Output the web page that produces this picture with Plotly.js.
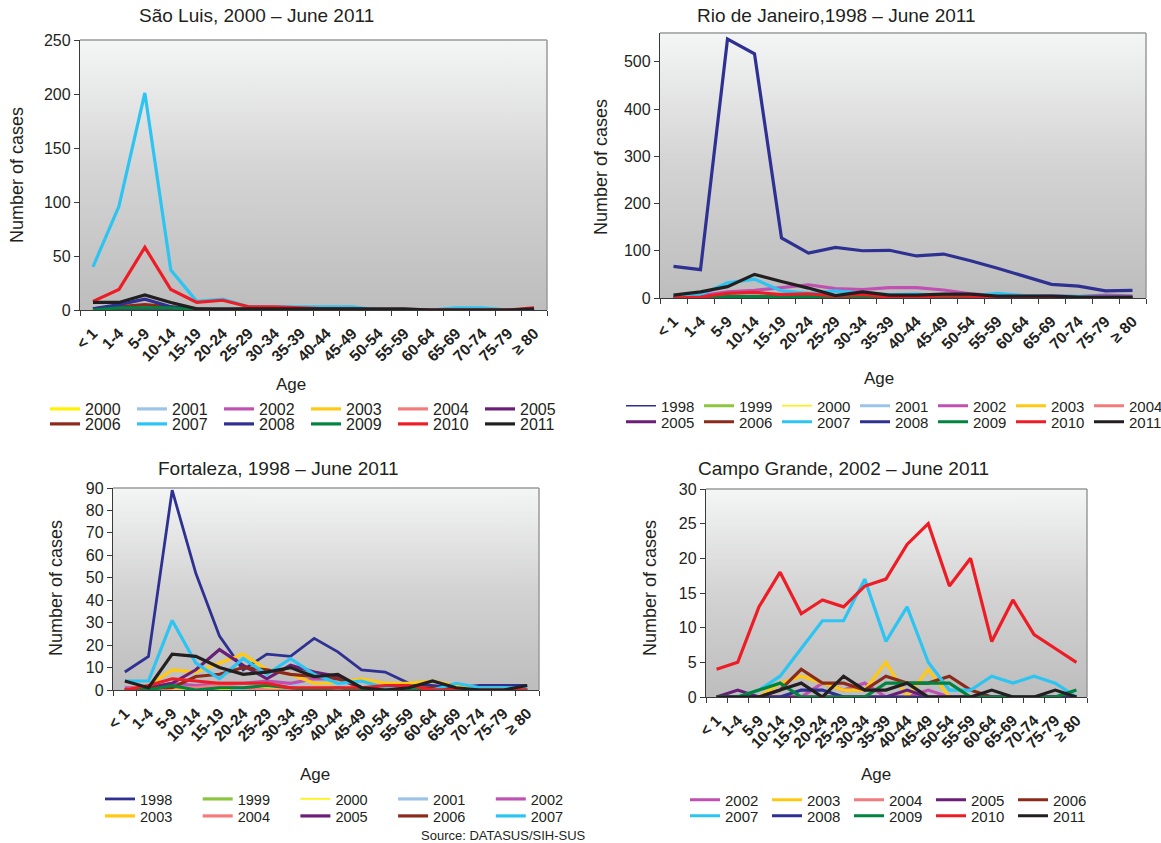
<!DOCTYPE html>
<html>
<head>
<meta charset="utf-8">
<script src="https://cdn.plot.ly/plotly-3.0.1.min.js"></script>
<style>html,body{margin:0;padding:0;background:#fff;}#chart{width:1161px;height:843px;}</style>
</head>
<body>
<div id="chart"></div>
<script>
// ---------- DATA ----------
const ageGroups = ['< 1','1-4','5-9','10-14','15-19','20-24','25-29','30-34','35-39','40-44','45-49','50-54','55-59','60-64','65-69','70-74','75-79','≥ 80'];

// São Luis, 2000 – June 2011
const saoLuisYears = [2000,2001,2002,2003,2004,2005,2006,2007,2008,2009,2010,2011];
const saoLuisValues = [
  [0,0,1,0,0,0,0,0,0,0,0,0,0,0,0,0,0,0],
  [0,0,2,1,0,0,0,0,0,0,0,0,0,0,0,0,0,0],
  [0,1,2,1,0,0,0,0,0,0,0,0,0,0,0,0,0,0],
  [0,1,1,0,0,0,0,0,0,0,0,0,0,0,0,0,0,0],
  [0,0,0,0,0,0,0,0,0,0,0,0,0,0,0,0,0,0],
  [0,0,1,0,0,0,0,0,0,0,0,0,0,0,0,0,0,0],
  [1,3,5,3,1,0,0,0,0,0,0,0,0,0,0,0,0,0],
  [40,96,201,37,8,10,3,3,3,3,3,0,0,0,2,2,0,0],
  [1,5,10,3,0,0,0,0,0,0,0,0,0,0,0,0,0,0],
  [0,2,2,2,0,0,1,0,0,0,0,0,0,0,0,0,0,0],
  [8,19,58,19,7,9,3,3,2,1,1,0,0,0,0,0,0,2],
  [7,7,14,7,1,1,1,1,1,1,1,1,1,0,0,0,0,1]
];

// Rio de Janeiro, 1998 – June 2011
const rioYears = [1998,1999,2000,2001,2002,2003,2004,2005,2006,2007,2008,2009,2010,2011];
const rioValues = [
  [0,0,1,1,1,1,1,1,1,1,0,0,0,0,0,0,0,0],
  [0,0,0,0,0,0,0,0,0,0,0,0,0,0,0,0,0,0],
  [0,0,1,1,0,0,0,0,0,0,0,0,0,0,0,0,0,0],
  [0,1,2,2,1,1,1,1,1,0,0,0,0,0,0,0,0,0],
  [2,5,13,16,22,28,20,18,22,22,17,9,5,4,5,3,6,4],
  [0,0,1,1,1,1,0,0,0,0,0,0,0,0,0,0,0,0],
  [0,0,1,1,1,1,0,0,0,0,0,0,0,0,0,0,0,0],
  [0,0,1,1,1,0,0,0,0,0,0,0,0,0,0,0,0,0],
  [0,1,3,3,2,2,1,1,1,1,1,1,0,0,0,0,0,0],
  [3,7,32,40,15,10,15,10,7,8,5,4,10,5,4,3,2,2],
  [67,60,548,517,127,95,107,100,101,89,93,79,63,46,29,25,15,16],
  [0,0,3,3,2,3,1,1,1,1,2,1,0,0,0,0,0,0],
  [0,2,10,12,7,9,4,7,2,2,5,4,1,1,1,1,0,0],
  [6,13,24,50,35,21,5,13,6,6,8,8,4,4,4,2,2,2]
];

// Fortaleza, 1998 – June 2011
const fortalezaYears = [1998,1999,2000,2001,2002,2003,2004,2005,2006,2007,2009,2010,2011];
const fortalezaValues = [
  [8,15,89,52,24,9,16,15,23,17,9,8,3,2,1,2,2,2],
  [0,0,1,0,0,0,0,0,0,0,0,0,0,0,0,0,0,0],
  [0,0,0,0,0,1,1,0,0,0,0,0,0,0,0,0,0,0],
  [0,0,2,1,2,0,3,2,5,2,0,0,0,0,0,0,0,0],
  [1,1,3,2,3,3,4,3,5,5,1,1,0,0,0,0,0,0],
  [0,2,9,8,12,16,9,7,3,3,5,3,3,4,2,1,1,0],
  [0,0,1,1,2,1,0,0,0,0,0,0,0,0,0,0,0,0],
  [0,1,3,9,18,11,5,11,8,6,1,0,0,0,0,0,0,0],
  [0,1,1,6,7,10,9,7,6,5,1,1,1,1,0,0,0,0],
  [4,4,31,12,5,14,7,14,7,3,4,1,0,0,3,1,1,1],
  [0,0,2,0,1,1,2,1,0,1,0,0,0,0,0,0,0,0],
  [0,2,5,4,3,3,3,1,1,1,1,2,2,0,0,0,0,0],
  [4,1,16,15,10,7,8,10,6,7,1,0,1,4,1,0,0,2]
];

// Campo Grande, 2002 – June 2011
const campoYears = [2002,2003,2004,2005,2006,2007,2008,2009,2010,2011];
const campoValues = [
  [0,0,0,0,0,2,1,2,0,0,1,0,0,0,0,0,0,0],
  [0,0,0,2,3,2,1,1,5,0,4,0,0,0,0,0,0,0],
  [0,0,0,0,0,0,0,0,0,0,0,0,0,0,0,0,0,0],
  [0,1,0,0,0,0,0,0,0,1,0,0,0,0,0,0,0,0],
  [0,0,0,1,4,2,2,1,3,2,2,3,1,0,0,0,0,0],
  [0,0,1,3,7,11,11,17,8,13,5,1,1,3,2,3,2,0],
  [0,0,0,0,1,1,0,0,0,0,0,0,0,0,0,0,0,0],
  [0,0,1,2,0,0,0,0,2,2,2,2,0,0,0,0,0,1],
  [4,5,13,18,12,14,13,16,17,22,25,16,20,8,14,9,7,5],
  [0,0,0,1,2,0,3,1,1,2,0,0,0,1,0,0,1,0]
];

const panelTitles = ['São Luis, 2000 – June 2011','Rio de Janeiro,1998 – June 2011','Fortaleza, 1998 – June 2011','Campo Grande, 2002 – June 2011'];
const yTitle = 'Number of cases';
const xTitle = 'Age';
const sourceText = 'Source: DATASUS/SIH-SUS';

// ---------- STYLE ----------
const yearColor = {
  1998:'#2e3192',1999:'#8cc63e',2000:'#fff200',2001:'#9cc3e8',2002:'#c050b2',2003:'#ffc812',
  2004:'#f47b7b',2005:'#6a1e78',2006:'#8c2a1a',2007:'#2cc4f2',2008:'#2e3192',2009:'#00843f',
  2010:'#ee1c25',2011:'#231f20'
};
const FONT = 'Liberation Sans, Arial, sans-serif';
const W = 1161, H = 843;
const fx = v => v / W;
const fy = v => 1 - v / H;

// panel geometry (pixels)
const panels = [
  {xa:'x',  ya:'y',  box:[80,547,40,310],   range:[0,250], dtick:50,  years:saoLuisYears,  vals:saoLuisValues,
   title:[256,15], age:[291,384], ylab:[17,175]},
  {xa:'x2', ya:'y2', box:[660,1146,33,298],  range:[0,561], dtick:100, years:rioYears,      vals:rioValues,
   title:[836,15], age:[879,378], ylab:[601,167]},
  {xa:'x3', ya:'y3', box:[113,539,488,690],  range:[0,90],  dtick:10,  years:fortalezaYears, vals:fortalezaValues,
   title:[278,468], age:[315,774], ylab:[56,588]},
  {xa:'x4', ya:'y4', box:[706,1087,489,697], range:[0,30],  dtick:5,   years:campoYears,    vals:campoValues,
   title:[843,468], age:[876,774], ylab:[650,588]}
];

// legend rows: [panelIndex, years, legend id, x start px, y px, spacing px, font size]
const legendRows = [
  [0, [2000,2001,2002,2003,2004,2005], 'legend',  50, 409, 86, 16],
  [0, [2006,2007,2008,2009,2010,2011], 'legend2', 50, 424, 86, 16],
  [1, [1998,1999,2000,2001,2002,2003,2004], 'legend3', 626, 406, 77, 15],
  [1, [2005,2006,2007,2008,2009,2010,2011], 'legend4', 626, 422, 77, 15],
  [2, [1998,1999,2000,2001,2002], 'legend5', 105, 799, 96.7, 14.5],
  [2, [2003,2004,2005,2006,2007], 'legend6', 105, 816, 96.7, 14.5],
  [3, [2002,2003,2004,2005,2006], 'legend7', 690, 800, 81, 15],
  [3, [2007,2008,2009,2010,2011], 'legend8', 690, 816, 81, 15]
];

function legendFor(pi, year) {
  for (const r of legendRows) if (r[0] === pi && r[1].indexOf(year) >= 0) return r[2];
  return null;
}
function widthFor(pi, year) {
  if ((pi === 1 || pi === 2) && (year === 1998 || year === 2000)) return pi === 2 && year === 1998 ? 2.8 : 1.6;
  return 3.2;
}

const traces = [];
panels.forEach((p, pi) => {
  p.years.forEach((yr, i) => {
    const lg = legendFor(pi, yr);
    traces.push({
      type:'scatter', mode:'lines', x: ageGroups, y: p.vals[i], name: String(yr),
      xaxis: p.xa, yaxis: p.ya,
      line:{color: yearColor[yr], width: widthFor(pi, yr)},
      legend: lg || 'legend', showlegend: !!lg, hoverinfo:'x+y+name'
    });
  });
});

const gradSvg = '<svg xmlns="http://www.w3.org/2000/svg" width="100" height="100" preserveAspectRatio="none">' +
  '<defs><linearGradient id="g" x1="0" y1="0" x2="0" y2="1">' +
  '<stop offset="0" stop-color="#f4f5f5"/><stop offset="0.5" stop-color="#d3d3d3"/><stop offset="1" stop-color="#bdbdbd"/></linearGradient></defs>' +
  '<rect width="100" height="100" fill="url(#g)"/></svg>';
const gradSrc = 'data:image/svg+xml;base64,' + btoa(gradSvg);

const layout = {
  width: W, height: H,
  margin:{l:0,r:0,t:0,b:0, autoexpand:false},
  paper_bgcolor:'#ffffff', plot_bgcolor:'rgba(0,0,0,0)',
  font:{family: FONT, color:'#231f20'},
  annotations: [], images: [], shapes: []
};

panels.forEach((p, pi) => {
  const sfx = pi === 0 ? '' : String(pi + 1);
  layout['xaxis' + sfx] = {
    domain:[fx(p.box[0]), fx(p.box[1])], anchor: p.ya,
    type:'category', tickmode:'linear', tick0:0, dtick:1, tickson:'boundaries',
    tickangle:-45, tickfont:{family:FONT, size:15.5, color:'#231f20', weight:'bold'},
    ticklabelstandoff: 7,
    showline:true, linecolor:'#3a3a3a', linewidth:1.2, ticks:'outside', ticklen:5, tickcolor:'#3a3a3a',
    showgrid:false, zeroline:false, fixedrange:true, range:[-0.5, 17.5], automargin:false
  };
  layout['yaxis' + sfx] = {
    domain:[fy(p.box[3]), fy(p.box[2])], anchor: p.xa,
    range: p.range, dtick: p.dtick, tick0:0,
    tickfont:{family:FONT, size:16, color:'#231f20'},
    showline:true, linecolor:'#3a3a3a', linewidth:1.2, ticks:'outside', ticklen:5, tickcolor:'#3a3a3a',
    showgrid:false, zeroline:false, fixedrange:true, automargin:false
  };
  layout.images.push({
    source: gradSrc, xref: p.xa + ' domain', yref: p.ya + ' domain',
    x:0, y:1, sizex:1, sizey:1, xanchor:'left', yanchor:'top', sizing:'stretch', layer:'below'
  });
  layout.shapes.push({type:'line', xref:p.xa+' domain', yref:p.ya+' domain', x0:0, x1:1, y0:1, y1:1, line:{color:'#9a9a9a', width:1.5}});
  layout.shapes.push({type:'line', xref:p.xa+' domain', yref:p.ya+' domain', x0:1, x1:1, y0:0, y1:1, line:{color:'#9a9a9a', width:1.5}});
  layout.annotations.push({text: panelTitles[pi], xref:'paper', yref:'paper', x: fx(p.title[0]), y: fy(p.title[1]),
    xanchor:'center', yanchor:'middle', showarrow:false, font:{family:FONT, size:19, color:'#231f20'}});
  layout.annotations.push({text: xTitle, xref:'paper', yref:'paper', x: fx(p.age[0]), y: fy(p.age[1]),
    xanchor:'center', yanchor:'middle', showarrow:false, font:{family:FONT, size:17, color:'#231f20'}});
  layout.annotations.push({text: yTitle, xref:'paper', yref:'paper', x: fx(p.ylab[0]), y: fy(p.ylab[1]),
    xanchor:'center', yanchor:'middle', textangle:-90, showarrow:false, font:{family:FONT, size:18, color:'#231f20'}});
});
layout.annotations.push({text: sourceText, xref:'paper', yref:'paper', x: fx(419), y: fy(835),
  xanchor:'left', yanchor:'middle', showarrow:false, font:{family:FONT, size:13, color:'#231f20'}});

legendRows.forEach(r => {
  layout[r[2]] = {
    orientation:'h', x: fx(r[3] - 5), y: fy(r[4]), xanchor:'left', yanchor:'middle',
    bgcolor:'rgba(0,0,0,0)', borderwidth:0, font:{family:FONT, size:r[6], color:'#231f20'},
    entrywidth: r[5] - 44, entrywidthmode:'pixels', traceorder:'normal', tracegroupgap:0, itemclick:false, itemdoubleclick:false
  };
});

Plotly.newPlot('chart', traces, layout, {displayModeBar:false, staticPlot:true});
</script>
</body>
</html>
